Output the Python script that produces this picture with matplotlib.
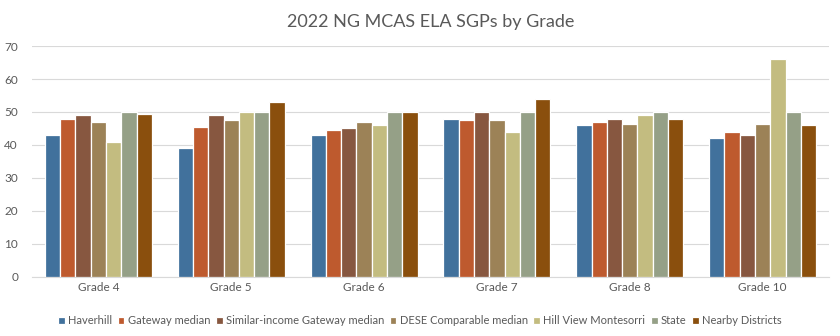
import matplotlib.pyplot as plt
import numpy as np

plt.rcParams['font.family'] = ['Lato', 'DejaVu Sans']

grades = ['Grade 4', 'Grade 5', 'Grade 6', 'Grade 7', 'Grade 8', 'Grade 10']
series = ['Haverhill', 'Gateway median', 'Similar-income Gateway median',
          'DESE Comparable median', 'Hill View Montesorri', 'State', 'Nearby Districts']

haverhill = [43, 39, 43, 48, 46, 42]
gateway = [48, 45.5, 44.5, 47.5, 47, 44]
similar_income = [49, 49, 45, 50, 48, 43]
dese = [47, 47.5, 47, 47.5, 46.5, 46.5]
hill_view = [41, 50, 46, 44, 49, 66]
state = [50, 50, 50, 50, 50, 50]
nearby = [49.5, 53, 50, 54, 48, 46]

values = [haverhill, gateway, similar_income, dese, hill_view, state, nearby]
colors = ['#41719C', '#BE5A2E', '#875740', '#9C8257', '#C3BC80', '#95A087', '#8A4F0D']

fig = plt.figure(figsize=(8.4, 3.36), dpi=100)
ax = fig.add_axes([0.038, 0.176, 0.949, 0.687])

x = np.arange(len(grades))
w = 0.115
for i, (vals, c) in enumerate(zip(values, colors)):
    ax.bar(x + (i - 3) * w, vals, w, color=c, edgecolor='white', linewidth=0.9,
           label=series[i], zorder=3)

ax.set_xlim(-0.5, len(grades) - 0.5)
ax.set_ylim(0, 70)
ax.set_yticks(range(0, 71, 10))
ax.set_xticks(x)
ax.set_xticklabels(grades)
ax.tick_params(axis='both', length=0, labelsize=8.5, colors='#595959')
ax.tick_params(axis='y', pad=10)
ax.grid(axis='y', color='#D9D9D9', linewidth=0.8, zorder=0)
for s in ['top', 'right', 'left']:
    ax.spines[s].set_visible(False)
ax.spines['bottom'].set_color('#D9D9D9')

ax.set_title('2022 NG MCAS ELA SGPs by Grade', fontsize=13, color='#595959', pad=14)

fig.legend(loc='lower center', bbox_to_anchor=(0.5, 0.0), ncol=7, frameon=False,
           fontsize=8, handlelength=0.6, handleheight=0.6, handletextpad=0.3,
           columnspacing=0.5, labelcolor='#595959')

fig.savefig('out.png', dpi=100)
